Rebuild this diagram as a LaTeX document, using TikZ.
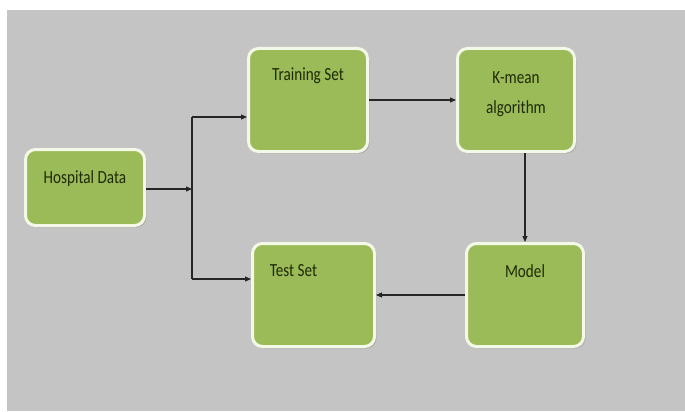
\documentclass[tikz,border=0pt]{standalone}
\usepackage{fontspec}
\setmainfont{Carlito}
\newfontfamily\boxfont[FakeStretch=0.82]{Carlito}
\usetikzlibrary{arrows.meta,shadows}

\definecolor{bggray}{HTML}{C4C4C4}
\definecolor{boxgreen}{HTML}{9BBB59}
\definecolor{boxedge}{HTML}{F4F8E6}
\definecolor{txtdark}{HTML}{1E2A05}

\begin{document}
\begin{tikzpicture}[x=1pt, y=-1pt,
  box/.style={draw=boxedge, line width=3pt, fill=boxgreen, rounded corners=10pt,
    minimum width=119pt, minimum height=103pt, inner sep=0pt,
    drop shadow={shadow xshift=2pt, shadow yshift=-2pt, fill=black!40, opacity=.5}},
  ttl/.style={anchor=center, yshift=-29pt, text=txtdark, align=center,
    font=\boxfont\fontsize{18.5}{30}\selectfont},
  arr/.style={-{Triangle[length=6pt,width=5pt]}, line width=1.1pt, black!85}]

\useasboundingbox (0,0) rectangle (685,412);
\fill [bggray] (7,10) rectangle (685,411);

\node [box, minimum height=76pt] (hosp) at (85,187.5) {};
\node [box] (train) at (308,100) {};
\node [box, minimum width=117pt] (kmean) at (516,100) {};
\node [box, minimum width=122pt] (test) at (313.5,295) {};
\node [box, minimum width=117pt] (model) at (525,295) {};

\node [ttl, yshift=-1.5pt] at (hosp.north) {Hospital Data};
\node [ttl] at (train.north) {Training Set};
\node [ttl, yshift=-18pt] at (kmean.north) {K-mean\\algorithm};
\node [ttl, xshift=-20pt] at (test.north) {Test Set};
\node [ttl] at (model.north) {Model};

\coordinate (up) at (192,117);
\coordinate (down) at (192,279);
\coordinate (mid) at (192,189);

\draw [line width=1.1pt, black!85] (up) -- (down);
\draw [arr] (hosp.east |- mid) -- (mid);
\draw [arr] (up) -- (up -| train.west);
\draw [arr] (down) -- (down -| test.west);
\draw [arr] (train.east) -- (kmean.west);
\draw [arr] (model.north |- kmean.south) -- (model.north);
\draw [arr] (model.west) -- (model.west -| test.east);
\end{tikzpicture}
\end{document}
